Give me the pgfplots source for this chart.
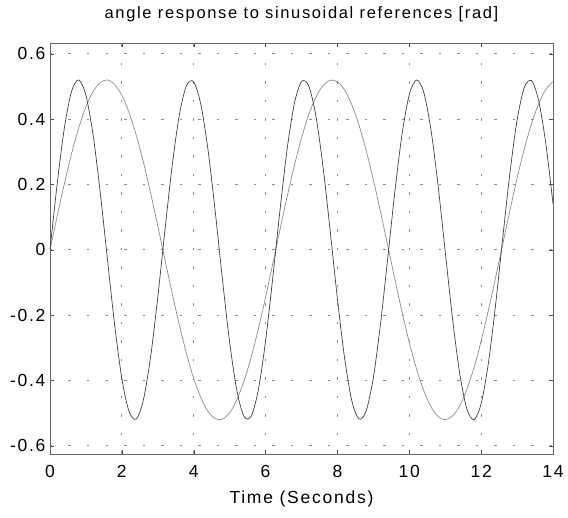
\documentclass[border=0pt]{standalone}
\usepackage{pgfplots}
\pgfplotsset{compat=1.18}
\usepackage{fontspec}
\setmainfont{Liberation Sans}
\newfontfamily\spaced[LetterSpace=10]{Liberation Sans}
\begin{document}
\begin{tikzpicture}
\begin{axis}[
  at={(0,0)}, anchor=south west,
  width=503pt, height=411pt, scale only axis,
  xmin=0, xmax=14, ymin=-0.625, ymax=0.633,
  xtick={0,2,...,14},
  ytick={-0.6,-0.4,-0.2,0,0.2,0.4,0.6},
  yticklabels={-0.6,-0.4,-0.2,0,0.2,0.4,0.6},
  /pgf/number format/assume math mode=true,
  tick label style={font=\spaced\fontsize{17.5}{20}\selectfont},
  xticklabel style={yshift=-8pt},
  yticklabel style={xshift=-1pt},
  tick align=inside, major tick length=4pt,
  tick style={black!70, thin},
  axis line style={black!60, line width=0.8pt},
  grid=major,
  major grid style={black!45, dash pattern=on 2.5pt off 16pt, line width=0.8pt},
  title={angle response to sinusoidal references [rad]},
  title style={font=\spaced\fontsize{16.5}{19}\selectfont, yshift=12pt},
  xlabel={Time (Seconds)},
  xlabel style={font=\spaced\fontsize{17.5}{20}\selectfont, yshift=-6pt},
]
\addplot[black!45, line width=0.7pt, smooth] coordinates {
(0,0) (0.2,0.103) (0.4,0.202) (0.6,0.294) (0.8,0.373) (1.0,0.438) (1.2,0.485) (1.4,0.512) (1.6,0.520) (1.8,0.506)
(2.0,0.473) (2.2,0.420) (2.4,0.351) (2.6,0.268) (2.8,0.174) (3.0,0.073) (3.2,-0.030) (3.4,-0.133) (3.6,-0.230) (3.8,-0.318)
(4.0,-0.394) (4.2,-0.453) (4.4,-0.495) (4.6,-0.517) (4.8,-0.518) (5.0,-0.499) (5.2,-0.459) (5.4,-0.402) (5.6,-0.328) (5.8,-0.242)
(6.0,-0.145) (6.2,-0.043) (6.4,0.061) (6.6,0.162) (6.8,0.257) (7.0,0.342) (7.2,0.413) (7.4,0.467) (7.6,0.503) (7.8,0.519)
(8.0,0.514) (8.2,0.489) (8.4,0.444) (8.6,0.382) (8.8,0.304) (9.0,0.214) (9.2,0.116) (9.4,0.013) (9.6,-0.091) (9.8,-0.191)
(10.0,-0.283) (10.2,-0.364) (10.4,-0.430) (10.6,-0.480) (10.8,-0.510) (11.0,-0.520) (11.2,-0.509) (11.4,-0.478) (11.6,-0.428) (11.8,-0.361)
(12.0,-0.279) (12.2,-0.186) (12.4,-0.086) (12.6,0.017) (12.8,0.120) (13.0,0.219) (13.2,0.308) (13.4,0.385) (13.6,0.447) (13.8,0.491) (14.0,0.515)
};
\addplot[black!75, line width=0.7pt, smooth] coordinates {
(0,0) (0.2,0.202) (0.4,0.373) (0.6,0.485) (0.8,0.520) (1.0,0.473) (1.2,0.351) (1.4,0.174) (1.6,-0.030) (1.8,-0.230)
(2.0,-0.394) (2.2,-0.495) (2.4,-0.518) (2.6,-0.459) (2.8,-0.328) (3.0,-0.145) (3.2,0.061) (3.4,0.257) (3.6,0.413) (3.8,0.503)
(4.0,0.514) (4.2,0.444) (4.4,0.304) (4.6,0.116) (4.8,-0.091) (5.0,-0.283) (5.2,-0.430) (5.4,-0.510) (5.6,-0.509) (5.8,-0.428)
(6.0,-0.279) (6.2,-0.086) (6.4,0.120) (6.6,0.308) (6.8,0.447) (7.0,0.515) (7.2,0.502) (7.4,0.410) (7.6,0.253) (7.8,0.056)
(8.0,-0.150) (8.2,-0.332) (8.4,-0.462) (8.6,-0.518) (8.8,-0.493) (9.0,-0.391) (9.2,-0.226) (9.4,-0.026) (9.6,0.179) (9.8,0.355)
(10.0,0.475) (10.2,0.520) (10.4,0.483) (10.6,0.370) (10.8,0.198) (11.0,-0.005) (11.2,-0.207) (11.4,-0.376) (11.6,-0.486) (11.8,-0.520)
(12.0,-0.471) (12.2,-0.348) (12.4,-0.170) (12.6,0.035) (12.8,0.234) (13.0,0.397) (13.2,0.496) (13.4,0.518) (13.6,0.457) (13.8,0.325) (14.0,0.141)
};
\end{axis}
\pgfresetboundingbox
\path[use as bounding box] (-50pt,-64pt) rectangle (518pt,454pt);
\end{tikzpicture}
\end{document}
